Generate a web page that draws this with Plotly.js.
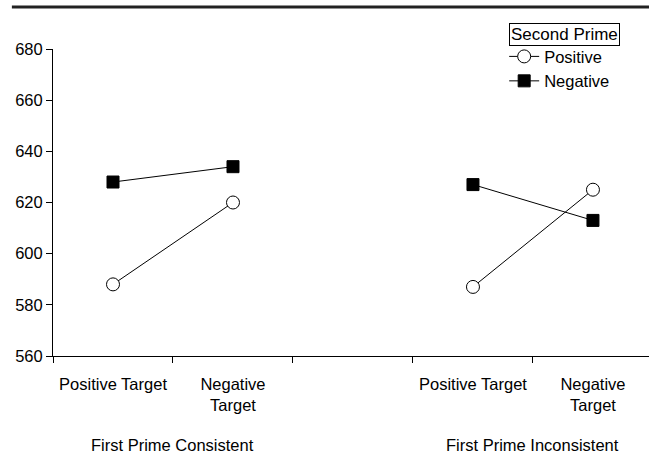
<!DOCTYPE html>
<html>
<head>
<meta charset="utf-8">
<script src="https://cdn.plot.ly/plotly-3.0.1.min.js"></script>
<style>html,body{margin:0;padding:0;background:#fff;}#chart{width:649px;height:457px;}</style>
</head>
<body>
<div id="chart"></div>
<script>
var xPos = [0, 1, 3, 4];
var catLabels = ["Positive Target", "Negative<br>Target", "Positive Target", "Negative<br>Target"];
var groupLabels = ["First Prime Consistent", "First Prime Inconsistent"];
var groupPos = [0.5, 3.5];
var boundaryTicks = [-0.5, 0.5, 1.5, 2.5, 3.5];
var positiveRT = [588, 620, 587, 625];
var negativeRT = [628, 634, 627, 613];
var yTicks = [560, 580, 600, 620, 640, 660, 680];

var FONT = "Liberation Sans, Arial, sans-serif";
var FS = 16.5;

var traces = [
  {x: xPos.slice(0,2), y: positiveRT.slice(0,2), mode: "lines+markers", name: "Positive", legendgroup: "pos",
   line: {color: "#000", width: 1}, marker: {symbol: "circle", size: 13, color: "#fff", line: {color: "#000", width: 1}}},
  {x: xPos.slice(2), y: positiveRT.slice(2), mode: "lines+markers", name: "Positive", legendgroup: "pos", showlegend: false,
   line: {color: "#000", width: 1}, marker: {symbol: "circle", size: 13, color: "#fff", line: {color: "#000", width: 1}}},
  {x: xPos.slice(0,2), y: negativeRT.slice(0,2), mode: "lines+markers", name: "Negative", legendgroup: "neg",
   line: {color: "#000", width: 1}, marker: {symbol: "square", size: 12, color: "#000", line: {color: "#000", width: 1}}},
  {x: xPos.slice(2), y: negativeRT.slice(2), mode: "lines+markers", name: "Negative", legendgroup: "neg", showlegend: false,
   line: {color: "#000", width: 1}, marker: {symbol: "square", size: 12, color: "#000", line: {color: "#000", width: 1}}},
  {x: [null], y: [null], xaxis: "x2", showlegend: false, hoverinfo: "skip"}
];

var layout = {
  width: 649, height: 457,
  margin: {l: 53, r: 0, t: 49, b: 101},
  paper_bgcolor: "#fff", plot_bgcolor: "#fff",
  font: {family: FONT, size: FS, color: "#000"},
  showlegend: true,
  legend: {x: 0.757, y: 1.032, xanchor: "left", yanchor: "top", bgcolor: "rgba(0,0,0,0)",
           font: {family: FONT, size: 16.5, color: "#000"}, tracegroupgap: 0, itemwidth: 30},
  xaxis: {range: [-0.5, 4.467], tickvals: xPos, ticktext: catLabels, ticks: "outside", ticklen: 13,
          tickcolor: "rgba(0,0,0,0)", showline: true, linecolor: "#000", linewidth: 1,
          showgrid: false, zeroline: false, fixedrange: true, tickfont: {family: FONT, size: FS}},
  xaxis2: {range: [-0.5, 4.467], overlaying: "x", anchor: "y", side: "bottom", tickvals: boundaryTicks,
           ticks: "outside", ticklen: 6, tickcolor: "#000", tickwidth: 1, showticklabels: false,
           showgrid: false, zeroline: false, showline: false},
  yaxis: {range: [560, 680], tickvals: yTicks, ticks: "outside", ticklen: 6, tickcolor: "#000",
          showline: true, linecolor: "#000", linewidth: 1, showgrid: false, zeroline: false,
          tickfont: {family: FONT, size: 16.5}},
  annotations: [
    {x: groupPos[0], y: -0.29, xref: "x", yref: "paper", text: groupLabels[0], showarrow: false,
     yanchor: "middle", font: {family: FONT, size: FS}},
    {x: groupPos[1], y: -0.29, xref: "x", yref: "paper", text: groupLabels[1], showarrow: false,
     yanchor: "middle", font: {family: FONT, size: FS}},
    {x: (564-53)/596, y: 1.048, xref: "paper", yref: "paper", text: "Second Prime", showarrow: false,
     xanchor: "center", yanchor: "middle", bordercolor: "#000", borderwidth: 1, borderpad: 1,
     font: {family: FONT, size: 17}}
  ],
  shapes: [
    {type: "line", xref: "paper", yref: "paper", x0: -0.069, x1: 1.0, y0: 1.137, y1: 1.137,
     line: {color: "#222", width: 3}}
  ]
};

Plotly.newPlot("chart", traces, layout, {displayModeBar: false, staticPlot: true});
</script>
</body>
</html>
